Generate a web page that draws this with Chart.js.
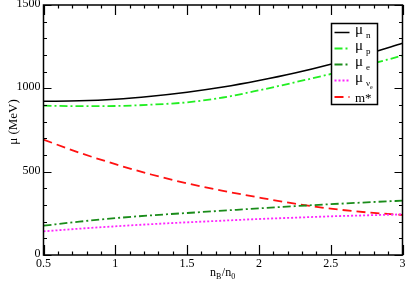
<!DOCTYPE html>
<html>
<head>
<meta charset="utf-8">
<script src="https://cdn.jsdelivr.net/npm/chart.js@4/dist/chart.umd.min.js"></script>
<style>
html,body{margin:0;padding:0;background:#fff;}
#wrap{width:407px;height:287px;position:relative;}
</style>
</head>
<body>
<div id="wrap"><canvas id="c" width="407" height="287"></canvas></div>
<script>
// ---- data ----
const nB   = [0.5, 0.75, 1.0, 1.25, 1.5, 1.75, 2.0, 2.25, 2.5, 2.75, 3.0];
const muN  = [922, 925, 935, 953, 977, 1008, 1047, 1092, 1145, 1205, 1270];
const muP  = [896, 893, 894, 902, 916, 945, 988, 1036, 1086, 1140, 1196];
const muE  = [176, 200, 221, 238, 252, 266, 280, 293, 305, 316, 326];
const muNu = [142, 158, 172, 185, 196, 206, 216, 224, 232, 238, 244];
const mStar= [692, 614, 545, 483, 430, 385, 345, 308, 278, 256, 240];

const xTickLabels = ['0.5', '1', '1.5', '2', '2.5', '3'];
const xTickValues = [0.5, 1, 1.5, 2, 2.5, 3];
const yTickLabels = ['0', '500', '1000', '1500'];
const yTickValues = [0, 500, 1000, 1500];

const seriesNames = ['μ_n', 'μ_p', 'μ_e', 'μ_νe', 'm*'];

const pts = arr => nB.map((x, i) => ({x: x, y: arr[i]}));

const styles = [
  {color: '#000000', dash: [], width: 1.5},
  {color: '#22ee22', dash: [8, 3, 2, 3], width: 1.8},
  {color: '#1a8c1a', dash: [8, 3, 2, 3], width: 1.8},
  {color: '#ff22ff', dash: [2, 2], width: 1.8},
  {color: '#ff1111', dash: [9, 5], width: 1.8}
];
const allData = [muN, muP, muE, muNu, mStar];

const datasets = allData.map((arr, i) => ({
  label: seriesNames[i],
  data: pts(arr),
  borderColor: styles[i].color,
  borderWidth: styles[i].width,
  borderDash: styles[i].dash,
  pointRadius: 0,
  fill: false,
  cubicInterpolationMode: 'monotone'
}));

const SERIF = '"Liberation Serif", "DejaVu Serif", serif';

const framePlugin = {
  id: 'frame',
  afterDatasetsDraw(chart) {
    const ctx = chart.ctx;
    const xs = chart.scales.x, ys = chart.scales.y;
    const a = chart.chartArea;
    ctx.save();
    ctx.setLineDash([]);
    ctx.strokeStyle = '#000';
    ctx.lineWidth = 1.5;
    ctx.strokeRect(a.left, a.top, a.right - a.left, a.bottom - a.top);
    ctx.lineWidth = 1.2;
    ctx.beginPath();
    for (let k = 5; k <= 30; k++) {
      const v = k / 10;
      const px = Math.round(xs.getPixelForValue(v)) + 0.5;
      const major = (k % 5 === 0);
      const len = major ? 10 : 3.5;
      ctx.moveTo(px, a.bottom); ctx.lineTo(px, a.bottom - len);
      ctx.moveTo(px, a.top); ctx.lineTo(px, a.top + len);
    }
    for (let k = 0; k <= 15; k++) {
      const v = k * 100;
      const py = Math.round(ys.getPixelForValue(v)) + 0.5;
      const major = (k % 5 === 0);
      const len = major ? 8 : 3.5;
      ctx.moveTo(a.left, py); ctx.lineTo(a.left + len, py);
      ctx.moveTo(a.right, py); ctx.lineTo(a.right - len, py);
    }
    ctx.stroke();

    ctx.fillStyle = '#000';
    ctx.font = '12px ' + SERIF;
    ctx.textAlign = 'center';
    ctx.textBaseline = 'top';
    xTickValues.forEach((v, i) => {
      ctx.fillText(xTickLabels[i], xs.getPixelForValue(v), a.bottom + 3);
    });
    ctx.textAlign = 'right';
    ctx.textBaseline = 'middle';
    yTickValues.forEach((v, i) => {
      ctx.fillText(yTickLabels[i], a.left - 3, ys.getPixelForValue(v) - 1);
    });

    const t1 = (txt, x, y, size) => { ctx.font = size + 'px ' + SERIF; ctx.fillText(txt, x, y); return ctx.measureText(txt).width; };
    ctx.textAlign = 'left';
    ctx.textBaseline = 'alphabetic';
    let x0 = 210, yb = 276;
    x0 += t1('n', x0, yb, 12);
    x0 += t1('B', x0, yb + 3, 8);
    x0 += t1('/n', x0 + 0.5, yb, 12) + 0.5;
    t1('0', x0, yb + 3, 8);

    ctx.save();
    ctx.translate(17, 122);
    ctx.rotate(-Math.PI / 2);
    ctx.font = '13px ' + SERIF;
    ctx.textAlign = 'center';
    ctx.fillText('μ (MeV)', 0, 0);
    ctx.restore();

    // legend
    ctx.fillStyle = '#fff';
    ctx.fillRect(331.5, 23.5, 46, 81);
    ctx.lineWidth = 1.5;
    ctx.strokeStyle = '#000';
    ctx.strokeRect(331.5, 23.5, 46, 81);
    const rows = [32.5, 48.5, 64.5, 80.5, 97];
    styles.forEach((s, i) => {
      ctx.beginPath();
      ctx.strokeStyle = s.color;
      ctx.lineWidth = s.width;
      ctx.setLineDash(s.dash);
      ctx.moveTo(334.5, rows[i]); ctx.lineTo(349.5, rows[i]);
      ctx.stroke();
    });
    ctx.setLineDash([]);
    ctx.fillStyle = '#000';
    ctx.textAlign = 'left';
    ctx.textBaseline = 'alphabetic';
    const subs = ['n', 'p', 'e', 'ν', null];
    subs.forEach((s, i) => {
      const base = rows[i] + 1;
      if (s === null) {
        t1('m*', 355, base + 4, 13);
      } else {
        const w = t1('μ', 355, base, 15);
        const w2 = t1(s, 355 + w + 3, base + 4, 9);
        if (i === 3) t1('e', 355 + w + 3 + w2, base + 7, 6);
      }
    });
    ctx.restore();
  }
};

new Chart(document.getElementById('c'), {
  type: 'line',
  data: { datasets: datasets },
  options: {
    responsive: false,
    animation: false,
    devicePixelRatio: 1,
    layout: { padding: { left: 43.5, top: 5, right: 4.5, bottom: 32 } },
    plugins: { legend: { display: false }, tooltip: { enabled: false } },
    scales: {
      x: { type: 'linear', min: 0.5, max: 3, display: false },
      y: { type: 'linear', min: 0, max: 1500, display: false }
    }
  },
  plugins: [framePlugin]
});
</script>
</body>
</html>
